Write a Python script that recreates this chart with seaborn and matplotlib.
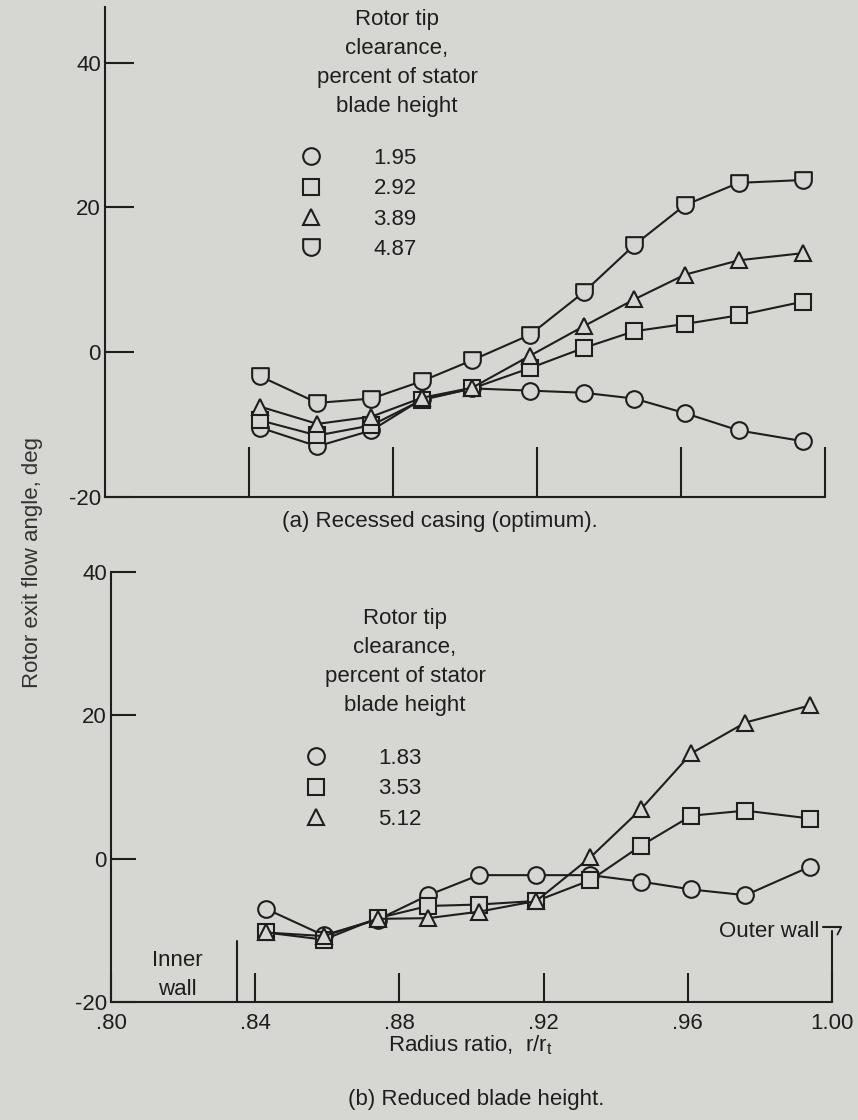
import numpy as np
import pandas as pd
import matplotlib.pyplot as plt
import seaborn as sns
from matplotlib.path import Path
from matplotlib.lines import Line2D

# radius ratio stations (same for both panels)
radius = [0.843, 0.859, 0.874, 0.888, 0.902, 0.918, 0.933, 0.947, 0.961, 0.976, 0.994]

# (a) recessed casing
labels_a = ["1.95", "2.92", "3.89", "4.87"]
a_195 = [-10.4, -13.0, -10.8, -6.5, -5.0, -5.3, -5.6, -6.4, -8.4, -10.8, -12.3]
a_292 = [-9.4, -11.5, -10.1, -6.6, -5.0, -2.2, 0.6, 2.9, 3.9, 5.1, 7.0]
a_389 = [-7.5, -9.9, -8.9, -6.3, -4.9, -0.5, 3.6, 7.3, 10.7, 12.7, 13.7]
a_487 = [-3.3, -7.0, -6.4, -4.0, -1.1, 2.4, 8.3, 14.8, 20.3, 23.4, 23.8]

# (b) reduced blade height
labels_b = ["1.83", "3.53", "5.12"]
b_183 = [-7.0, -10.7, -8.5, -5.1, -2.3, -2.3, -2.3, -3.2, -4.3, -5.1, -1.1]
b_353 = [-10.3, -11.3, -8.3, -6.6, -6.4, -5.9, -3.0, 1.8, 6.0, 6.7, 5.6]
b_512 = [-10.3, -10.8, -8.4, -8.3, -7.4, -5.9, 0.2, 6.9, 14.7, 19.0, 21.4]

xticks = [0.80, 0.84, 0.88, 0.92, 0.96, 1.00]
xticklabels = [".80", ".84", ".88", ".92", ".96", "1.00"]
yticks = [-20, 0, 20, 40]
inner_wall = 0.835
outer_wall = 1.00

bg = "#d6d6d3"
ink = "#1e1e1e"

sns.set_style("ticks")
plt.rcParams["font.family"] = ["Liberation Sans", "DejaVu Sans"]
plt.rcParams["mathtext.default"] = "regular"
plt.rcParams["axes.unicode_minus"] = False
plt.rcParams["text.color"] = ink
plt.rcParams["axes.edgecolor"] = ink
plt.rcParams["xtick.color"] = ink
plt.rcParams["ytick.color"] = ink

# shield marker: flat top, round bottom
arc = Path.arc(180, 360)
verts = list(arc.vertices) + [(1, 1), (-1, 1), (-1, 0)]
codes = list(arc.codes) + [Path.LINETO, Path.LINETO, Path.CLOSEPOLY]
shield = Path(verts, codes)

markers_a = ["o", "s", "^", shield]
markers_b = ["o", "s", "^"]

mk = dict(color=ink, lw=1.5, ms=12, mfc=bg, mec=ink, mew=1.5)

fig = plt.figure(figsize=(8.58, 11.2), dpi=100, facecolor=bg)
ax1 = fig.add_axes([105/858, 1-497/1120, 720/858, 490/1120])
ax2 = fig.add_axes([111/858, 1-1002/1120, 721/858, 430/1120])

for ax in (ax1, ax2):
    ax.set_facecolor(bg)
    sns.despine(ax=ax)
    ax.spines["left"].set_linewidth(1.5)
    ax.spines["bottom"].set_linewidth(1.5)
    ax.set_xlim(0.80, 1.00)

df_a = pd.DataFrame({"r": radius, "1.95": a_195, "2.92": a_292, "3.89": a_389, "4.87": a_487})
for lab, m in zip(labels_a, markers_a):
    sns.lineplot(data=df_a, x="r", y=lab, marker=m, ax=ax1, **mk)

df_b = pd.DataFrame({"r": radius, "1.83": b_183, "3.53": b_353, "5.12": b_512})
for lab, m in zip(labels_b, markers_b):
    sns.lineplot(data=df_b, x="r", y=lab, marker=m, ax=ax2, **mk)

# panel (a) axes
ax1.set_ylim(-20, 47.7)
ax1.set_yticks(yticks)
ax1.set_xticks(xticks[1:])
ax1.tick_params(axis="x", direction="in", length=36, width=1.5, labelbottom=False)
ax1.tick_params(axis="y", direction="in", length=21, width=1.5, labelsize=16, pad=3)
ax1.set_xlabel("")
ax1.set_ylabel("")

# panel (b) axes
ax2.set_ylim(-20, 40)
ax2.set_yticks(yticks)
ax2.set_xticks(xticks)
ax2.set_xticklabels(xticklabels)
ax2.tick_params(axis="x", direction="in", length=21, width=1.5, labelsize=16, pad=8)
ax2.tick_params(axis="y", direction="in", length=18, width=1.5, labelsize=16, pad=3)
ax2.set_xlabel("")
ax2.set_ylabel("")

# wall markers
ax2.plot([inner_wall, inner_wall], [-20, -11.5], color=ink, lw=1.5)
ax2.text(0.8185, -16.3, "Inner\nwall", ha="center", va="center", fontsize=16, linespacing=1.5)
ax2.plot([outer_wall, outer_wall], [-20, -10.1], color=ink, lw=1.5, clip_on=False)
ax2.plot([0.9975, 1.0025], [-9.6, -9.6], color=ink, lw=1.5, clip_on=False)
ax2.plot([1.0025, 1.0015], [-9.6, -10.6], color=ink, lw=1.2, clip_on=False)
ax2.text(0.9965, -10.1, "Outer wall", ha="right", va="center", fontsize=16)

# legends
hdr = "Rotor tip\nclearance,\npercent of stator\nblade height"
fig.text(397/858, 1-9/1120, hdr, ha="center", va="top", fontsize=16, linespacing=1.5)
fig.text(405/858, 1-608/1120, hdr, ha="center", va="top", fontsize=16, linespacing=1.5)

def legend(ax, labels, markers, x, y):
    hs = [Line2D([], [], ls="none", marker=m, ms=12, mfc=bg, mec=ink, mew=1.5) for m in markers]
    ax.legend(hs, labels, loc="upper left", bbox_to_anchor=(x/858, 1-y/1120),
              bbox_transform=fig.transFigure, frameon=False, borderpad=0,
              handlelength=1.0, handletextpad=2.3, labelspacing=0.42, fontsize=16)

legend(ax1, labels_a, markers_a, 289, 137)
legend(ax2, labels_b, markers_b, 294, 737)

fig.text(440/858, 1-522/1120, "(a) Recessed casing (optimum).", ha="center", va="center", fontsize=16)
fig.text(470/858, 1-1045/1120, "Radius ratio,  r/r$_t$", ha="center", va="center", fontsize=16)
fig.text(476/858, 1-1100/1120, "(b) Reduced blade height.", ha="center", va="center", fontsize=16)
fig.text(33/858, 1-563/1120, "Rotor exit flow angle, deg", rotation=90, ha="center", va="center",
         fontsize=16, color="#333333")

fig.savefig("out.png", dpi=100, facecolor=bg)
